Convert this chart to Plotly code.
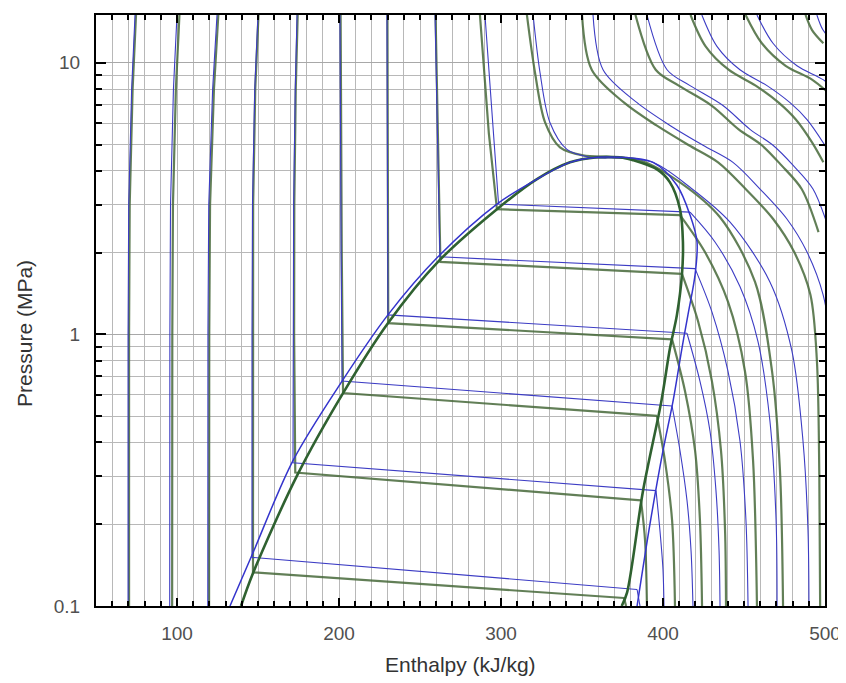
import plotly.graph_objects as go

# saturation dome, model A (blue) and model B (green); h in kJ/kg, p in MPa
dome_blue_liq_h = [132.7, 146.3, 171.6, 201.9, 230.2, 261.1, 297.5, 322.2, 342.6, 359.3, 373.5]
dome_blue_liq_p = [0.1, 0.154, 0.343, 0.673, 1.18, 1.93, 3.02, 3.73, 4.30, 4.49, 4.49]
dome_blue_vap_h = [373.5, 393.8, 408.6, 416.7, 421.0, 419.8, 415.4, 411.7, 406.2, 400.0, 392.0, 384.0]
dome_blue_vap_p = [4.49, 4.30, 3.54, 2.75, 2.19, 1.66, 1.18, 0.889, 0.568, 0.373, 0.201, 0.1]
dome_green_liq_h = [139.5, 146.9, 174.1, 202.5, 230.2, 261.1, 297.5, 322.2, 342.6, 359.3, 373.5]
dome_green_liq_p = [0.1, 0.132, 0.302, 0.608, 1.10, 1.85, 2.89, 3.73, 4.30, 4.49, 4.49]
dome_green_vap_h = [373.5, 381.5, 396.3, 404.3, 410.5, 412.3, 411.7, 408.6, 404.3, 399.0, 387.7, 377.8, 374.5]
dome_green_vap_p = [4.49, 4.38, 4.05, 3.63, 2.89, 2.19, 1.66, 1.18, 0.889, 0.568, 0.266, 0.112, 0.1]

# isotherms: liquid + two-phase parts (straight)
blue_liq_h = [
    [74.1, 72.0, 70.2, 69.8, 69.8],
    [100.0, 97.8, 96.0, 95.6, 95.5],
    [124.7, 122.0, 119.6, 119.1, 119.0],
    [150.0, 148.0, 146.6, 146.3, 146.3, 384.0],
    [174.1, 173.0, 172.0, 171.6, 171.6, 395.7],
    [200.6, 200.8, 201.3, 201.9, 405.6],
    [229.6, 229.8, 230.0, 230.2, 414.8],
    [259.3, 260.3, 261.5, 262.3, 419.8],
    [290.1, 292.8, 295.5, 298.5, 416.7],
]
blue_liq_p = [
    [15, 8, 3, 1, 0.1],
    [15, 8, 3, 1, 0.1],
    [15, 8, 3, 1, 0.1],
    [15, 8, 3, 1, 0.151, 0.115],
    [15, 8, 3, 1, 0.337, 0.266],
    [15, 6, 2, 0.673, 0.545],
    [15, 6, 2.5, 1.18, 1.01],
    [15, 8, 4, 1.93, 1.746],
    [15, 9, 5.5, 3.02, 2.82],
]
green_liq_h = [
    [74.7, 72.6, 70.8, 70.4, 70.4],
    [101.5, 99.3, 97.5, 97.1, 97.0],
    [125.5, 122.8, 120.4, 119.9, 119.8],
    [150.3, 148.3, 147.0, 146.9, 146.9, 376.0],
    [174.5, 173.3, 172.4, 172.3, 173.0, 386.4],
    [201.0, 201.2, 201.7, 202.5, 396.3],
    [229.9, 230.0, 230.2, 230.4, 405.6],
    [259.6, 260.6, 261.8, 262.6, 411.7],
    [287.0, 290.0, 292.5, 297.5, 410.5],
]
green_liq_p = [
    [15, 8, 3, 1, 0.1],
    [15, 8, 3, 1, 0.1],
    [15, 8, 3, 1, 0.1],
    [15, 8, 3, 1, 0.133, 0.107],
    [15, 8, 3, 1, 0.31, 0.245],
    [15, 6, 2, 0.608, 0.501],
    [15, 6, 2.5, 1.10, 0.959],
    [15, 8, 4, 1.85, 1.67],
    [15, 9, 5.5, 2.89, 2.75],
]

# isotherms: vapour branches, near-critical and supercritical curves (smooth)
blue_vap_h = [
    [384.0, 385.8],
    [395.7, 398.1, 400.0, 400.6],
    [405.6, 410.5, 414.8, 417.3, 418.5],
    [414.8, 422.8, 429.0, 432.7, 434.6, 435.2],
    [419.8, 430.2, 440.1, 447.5, 451.2, 452.5],
    [416.7, 432.1, 447.5, 458.6, 466.0, 469.8, 470.4],
    [319.8, 324.1, 330.2, 340.7, 354.9, 374.0, 393.8, 416.7, 441.4, 466.0, 479.6, 486.4, 489.5, 490.1],
    [356.8, 363.0, 384.0, 404.3, 424.7, 443.2, 459.9, 476.5, 488.9, 498.8, 505.0, 508.0, 509.0],
    [390.1, 402.5, 416.7, 437.0, 453.7, 467.9, 480.2, 492.6, 503.0],
    [424.0, 433.3, 447.5, 464.2, 478.4, 488.9, 498.8, 506.0],
    [458.0, 467.9, 482.7, 498.8, 509.0],
    [495.0, 498.8, 506.0],
]
blue_vap_p = [
    [0.115, 0.1],
    [0.266, 0.19, 0.136, 0.1],
    [0.545, 0.373, 0.245, 0.16, 0.1],
    [1.01, 0.673, 0.441, 0.266, 0.16, 0.1],
    [1.746, 1.21, 0.732, 0.406, 0.207, 0.1],
    [2.82, 2.19, 1.50, 0.943, 0.48, 0.207, 0.1],
    [15, 9.19, 6.03, 4.80, 4.49, 4.45, 4.30, 3.48, 2.59, 1.56, 0.867, 0.406, 0.19, 0.1],
    [15, 9.43, 7.13, 5.88, 4.97, 4.30, 3.43, 2.66, 2.01, 1.40, 0.8, 0.3, 0.1],
    [15, 9.43, 8.24, 6.96, 5.69, 4.97, 4.20, 3.43, 2.38],
    [15, 11.5, 9.43, 8.24, 7.13, 6.18, 5.09, 4.3],
    [15, 11.8, 9.75, 8.67, 7.76],
    [15, 13.2, 11.8],
]
green_vap_h = [
    [376.0, 377.2],
    [386.4, 388.9, 390.1],
    [396.3, 401.2, 405.6, 407.4],
    [405.6, 413.6, 419.8, 422.8, 424.1],
    [411.7, 421.6, 430.2, 435.8, 438.3, 438.9],
    [410.5, 425.9, 440.1, 450.6, 455.6, 458.0],
    [316.0, 321.0, 327.2, 336.4, 350.6, 368.0, 385.8, 410.5, 435.2, 456.8, 467.3, 472.2, 474.1],
    [350.0, 356.0, 376.0, 396.0, 416.0, 434.0, 451.0, 468.0, 481.0, 491.0, 495.0, 496.5, 497.0],
    [383.0, 395.5, 409.7, 430.0, 446.7, 461.0, 473.0, 485.6, 496.0],
    [417.0, 426.3, 440.5, 457.2, 471.4, 482.0, 492.0, 499.0],
    [451.0, 461.0, 475.7, 492.0, 502.0],
    [488.0, 492.0, 499.0],
]
green_vap_p = [
    [0.107, 0.1],
    [0.245, 0.175, 0.1],
    [0.501, 0.343, 0.207, 0.1],
    [0.959, 0.618, 0.373, 0.207, 0.1],
    [1.67, 1.12, 0.673, 0.373, 0.19, 0.1],
    [2.75, 2.01, 1.32, 0.732, 0.343, 0.1],
    [15, 9.19, 6.03, 4.88, 4.56, 4.5, 4.38, 3.63, 2.70, 1.56, 0.732, 0.315, 0.1],
    [15, 9.43, 7.13, 5.88, 4.97, 4.30, 3.43, 2.66, 2.01, 1.40, 0.8, 0.3, 0.1],
    [15, 9.43, 8.24, 6.96, 5.69, 4.97, 4.20, 3.43, 2.38],
    [15, 11.5, 9.43, 8.24, 7.13, 6.18, 5.09, 4.3],
    [15, 11.8, 9.75, 8.67, 7.76],
    [15, 13.2, 11.8],
]

x_ticks = [100, 200, 300, 400, 500]
y_ticks = [0.1, 1, 10]
y_ticktext = ["0.1", "1", "10"]
y_minor = [0.2, 0.3, 0.4, 0.5, 0.6, 0.7, 0.8, 0.9, 2, 3, 4, 5, 6, 7, 8, 9]

BLUE = "#3c3cc4"
GREEN = "rgba(70,104,58,0.85)"
FONT = "Liberation Sans, Arial, sans-serif"

fig = go.Figure()

def add_line(h, p, color, width, shape="linear"):
    fig.add_trace(go.Scatter(
        x=h, y=p, mode="lines",
        line=dict(color=color, width=width, shape=shape, smoothing=0.9),
        hoverinfo="skip", showlegend=False,
    ))

# green model first, blue drawn on top
for h, p in zip(green_liq_h, green_liq_p):
    add_line(h, p, GREEN, 2.2)
for h, p in zip(green_vap_h, green_vap_p):
    add_line(h, p, GREEN, 2.2, "spline")
for h, p in zip(blue_liq_h, blue_liq_p):
    add_line(h, p, BLUE, 1.1)
for h, p in zip(blue_vap_h, blue_vap_p):
    add_line(h, p, BLUE, 1.1, "spline")

add_line(dome_green_liq_h, dome_green_liq_p, "#2f6130", 2.6, "spline")
add_line(dome_green_vap_h, dome_green_vap_p, "#2f6130", 2.6, "spline")
add_line(dome_blue_liq_h, dome_blue_liq_p, "#3434cc", 1.5, "spline")
add_line(dome_blue_vap_h, dome_blue_vap_p, "#3434cc", 1.5, "spline")

tick_font = dict(family=FONT, size=19, color="#505050")
title_font = dict(family=FONT, size=21, color="#333333")

# the page body adds 8px around the figure, so the figure is 8px smaller
fig.update_layout(
    width=838, height=675,
    margin=dict(l=88, r=21, t=5, b=77),
    paper_bgcolor="white", plot_bgcolor="white",
    showlegend=False,
    xaxis=dict(
        range=[50, 500], tickmode="array", tickvals=x_ticks,
        ticks="inside", ticklen=8, tickwidth=1.5, tickcolor="black",
        showline=True, linecolor="black", linewidth=2, mirror="allticks",
        showgrid=True, gridcolor="#b8b8b8", gridwidth=1,
        minor=dict(dtick=10, tick0=0, ticks="inside", ticklen=5, tickcolor="black",
                   showgrid=True, gridcolor="#b8b8b8", gridwidth=1),
        tickfont=tick_font, ticklabelstandoff=9,
        zeroline=False,
    ),
    yaxis=dict(
        type="log", range=[-1, 1.176], tickmode="array", tickvals=y_ticks, ticktext=y_ticktext,
        ticks="inside", ticklen=10, tickwidth=1.5, tickcolor="black",
        showline=True, linecolor="black", linewidth=2, mirror="allticks",
        showgrid=True, gridcolor="#a8a8a8", gridwidth=1,
        minor=dict(tickmode="array", tickvals=y_minor, ticks="inside", ticklen=6, tickcolor="black",
                   showgrid=True, gridcolor="#b8b8b8", gridwidth=1),
        tickfont=tick_font, ticklabelstandoff=10,
        zeroline=False,
    ),
    annotations=[
        dict(text="Enthalpy (kJ/kg)", xref="paper", yref="paper", x=0.5, y=-0.0995,
             xanchor="center", yanchor="middle", showarrow=False, font=title_font),
        dict(text="Pressure (MPa)", xref="paper", yref="paper", x=-0.0974, y=0.462,
             xanchor="center", yanchor="middle", textangle=-90, showarrow=False, font=title_font),
    ],
)

fig.write_html("out.html")
